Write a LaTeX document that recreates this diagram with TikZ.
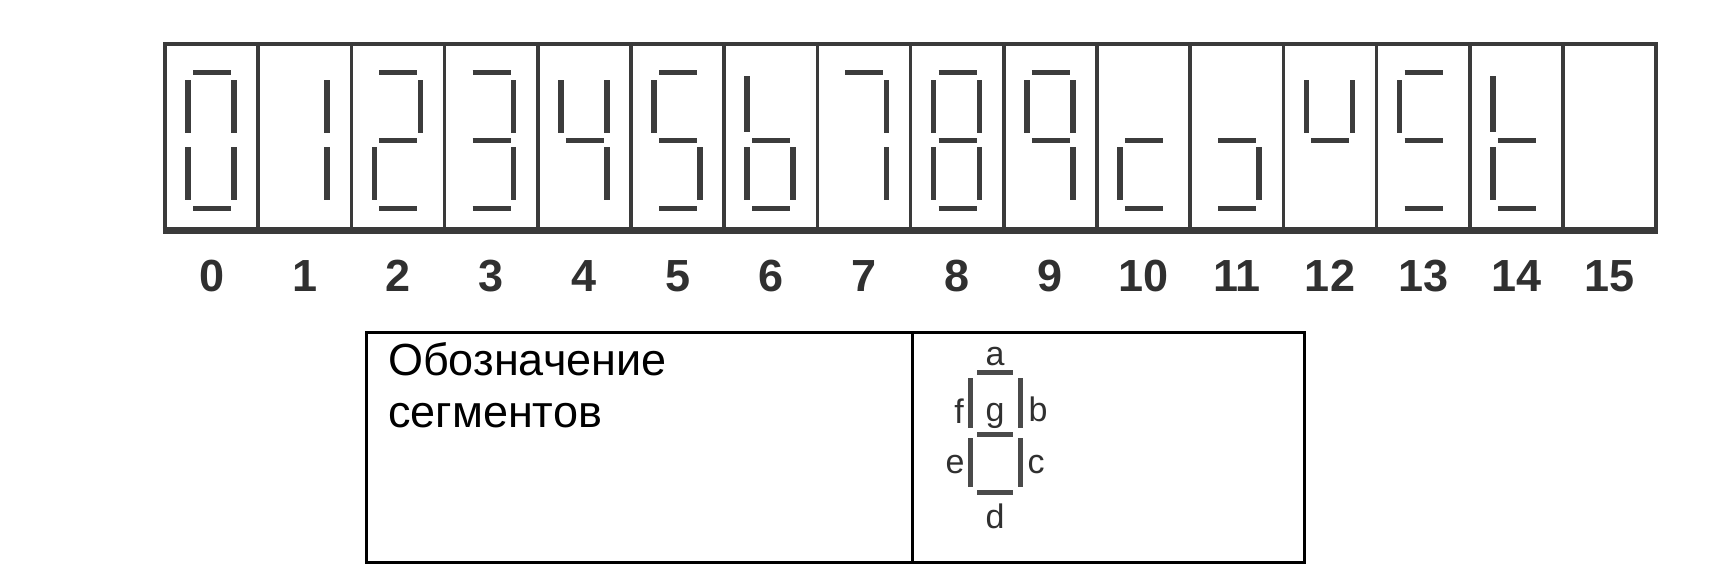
\documentclass[tikz,border=0pt]{standalone}
\usepackage{fontspec}
\setmainfont{Liberation Sans}
\definecolor{segc}{HTML}{3C3C3C}
\definecolor{framec}{HTML}{3A3A3A}
\definecolor{labc}{HTML}{303030}
\definecolor{ssegc}{HTML}{4A4A4A}
\newcommand\dsega[1]{\draw[segline] (#1+28,72.5) -- (#1+66,72.5);}
\newcommand\dsegb[1]{\draw[segline] (#1+69,80) -- (#1+69,133);}
\newcommand\dsegc[1]{\draw[segline] (#1+69,147) -- (#1+69,200);}
\newcommand\dsegd[1]{\draw[segline] (#1+28,208.5) -- (#1+66,208.5);}
\newcommand\dsege[1]{\draw[segline] (#1+23,147) -- (#1+23,200);}
\newcommand\dsegf[1]{\draw[segline] (#1+23,80) -- (#1+23,133);}
\newcommand\dsegF[1]{\draw[segline] (#1+23,76) -- (#1+23,132);}
\newcommand\dsegg[1]{\draw[segline] (#1+28,140.5) -- (#1+66,140.5);}
\begin{document}
\begin{tikzpicture}[x=1pt,y=-1pt,
  segline/.style={line width=5.5pt, draw=segc},
  sseg/.style={line width=5pt, draw=ssegc},
  numlab/.style={font=\fontsize{45}{50}\selectfont\bfseries, text=labc, inner sep=0pt, anchor=base},
  slab/.style={font=\fontsize{34}{38}\selectfont, text=labc, inner sep=0pt, anchor=base},
  ttext/.style={font=\fontsize{45}{52}\selectfont, text=black, inner sep=0pt, anchor=base west}]
\useasboundingbox[fill=white] (0,0) rectangle (1735,574);
% digit frame
\foreach \k in {1,...,15}
  \draw[framec, line width=3.5pt] ({165+93.2*\k},44) -- ({165+93.2*\k},230);
\draw[framec, line width=4.5pt] (165,230) -- (165,44) -- (1656.2,44) -- (1656.2,230);
\draw[framec, line width=7pt] (162.75,230.5) -- (1658.45,230.5);
% digits
\foreach \k/\segs in {0/{a,b,c,d,e,f},1/{b,c},2/{a,b,d,e,g},3/{a,b,c,d,g},
  4/{b,c,f,g},5/{a,c,d,f,g},6/{c,d,e,F,g},7/{a,b,c},8/{a,b,c,d,e,f,g},
  9/{a,b,c,f,g},10/{d,e,g},11/{c,d,g},12/{b,f,g},13/{a,d,f,g},14/{d,e,F,g}}{
  \pgfmathsetmacro\cellx{165+93.2*\k}
  \foreach \s in \segs {\csname dseg\s\endcsname{\cellx}}
}
% numbers
\foreach \k in {0,...,15}
  \node[numlab] (n\k) at ({165+93.2*\k+46.6},291) {\k};
% legend table
\draw[black, line width=3pt] (366.5,332) rectangle (1304.5,562);
\draw[black, line width=3pt] (912.5,332) -- (912.5,562);
\node[ttext] (t1) at (388,375) {Обозначение};
\node[ttext] (t2) at (388,427) {сегментов};
% segment legend
\draw[sseg] (977,372.5) -- (1013,372.5);
\draw[sseg] (970.5,378) -- (970.5,428);
\draw[sseg] (1020,378) -- (1020,428);
\draw[sseg] (977,434.5) -- (1013,434.5);
\draw[sseg] (970.5,438) -- (970.5,487);
\draw[sseg] (1020,438) -- (1020,487);
\draw[sseg] (977,492) -- (1013,492);
\node[slab] (la) at (995,365) {a};
\node[slab] (lf) at (959,423) {f};
\node[slab] (lg) at (995,421) {g};
\node[slab] (lb) at (1038,421) {b};
\node[slab] (le) at (955,473) {e};
\node[slab] (lc) at (1036,473) {c};
\node[slab] (ld) at (995,528) {d};
\end{tikzpicture}
\end{document}
